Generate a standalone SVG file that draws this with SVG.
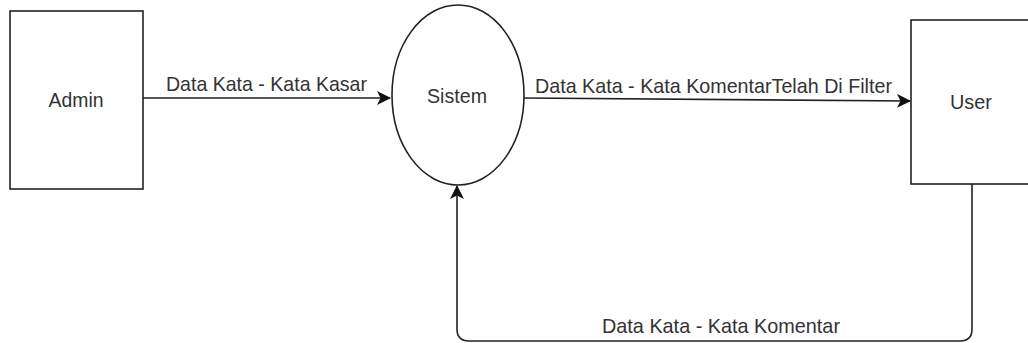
<svg xmlns="http://www.w3.org/2000/svg" width="1028" height="343" viewBox="0 0 1028 343">
<style>
.n{fill:#fff;stroke:#222;stroke-width:1.6}
.c{fill:none;stroke:#222;stroke-width:1.6}
.t{font-family:"Liberation Sans",Arial,sans-serif;font-size:21px;fill:#333}
.m{text-anchor:middle}
</style>
<defs>
<marker id="ah" viewBox="0 0 14 14" refX="13" refY="7" markerWidth="14" markerHeight="14" markerUnits="userSpaceOnUse" orient="auto">
<path d="M0,0 L14,7 L0,14 L3.5,7 Z" fill="#111"/>
</marker>
</defs>
<rect width="1028" height="343" fill="#fff"/>
<g id="admin">
<rect class="n" x="10" y="11" width="133" height="178"/>
<text class="t m" x="76" y="107" textLength="55" lengthAdjust="spacingAndGlyphs">Admin</text>
</g>
<g id="sistem">
<ellipse class="n" cx="458" cy="95" rx="66" ry="90"/>
<text class="t m" x="457" y="103" textLength="60" lengthAdjust="spacingAndGlyphs">Sistem</text>
</g>
<g id="user">
<rect class="n" x="911" y="20" width="130" height="164"/>
<text class="t m" x="971" y="109" textLength="42" lengthAdjust="spacingAndGlyphs">User</text>
</g>
<g id="connectors">
<path class="c" d="M143,98 L390,98" marker-end="url(#ah)"/>
<path class="c" d="M524,98 L910,101" marker-end="url(#ah)"/>
<path class="c" d="M972,184 L972,329 Q972,341 960,341 L469,341 Q457,341 457,329 L457,186" marker-end="url(#ah)"/>
<text class="t" x="166" y="91" textLength="201" lengthAdjust="spacingAndGlyphs">Data Kata - Kata Kasar</text>
<text class="t" x="535" y="93" textLength="357" lengthAdjust="spacingAndGlyphs">Data Kata - Kata KomentarTelah Di Filter</text>
<text class="t" x="602" y="333" textLength="238" lengthAdjust="spacingAndGlyphs">Data Kata - Kata Komentar</text>
</g>
</svg>
